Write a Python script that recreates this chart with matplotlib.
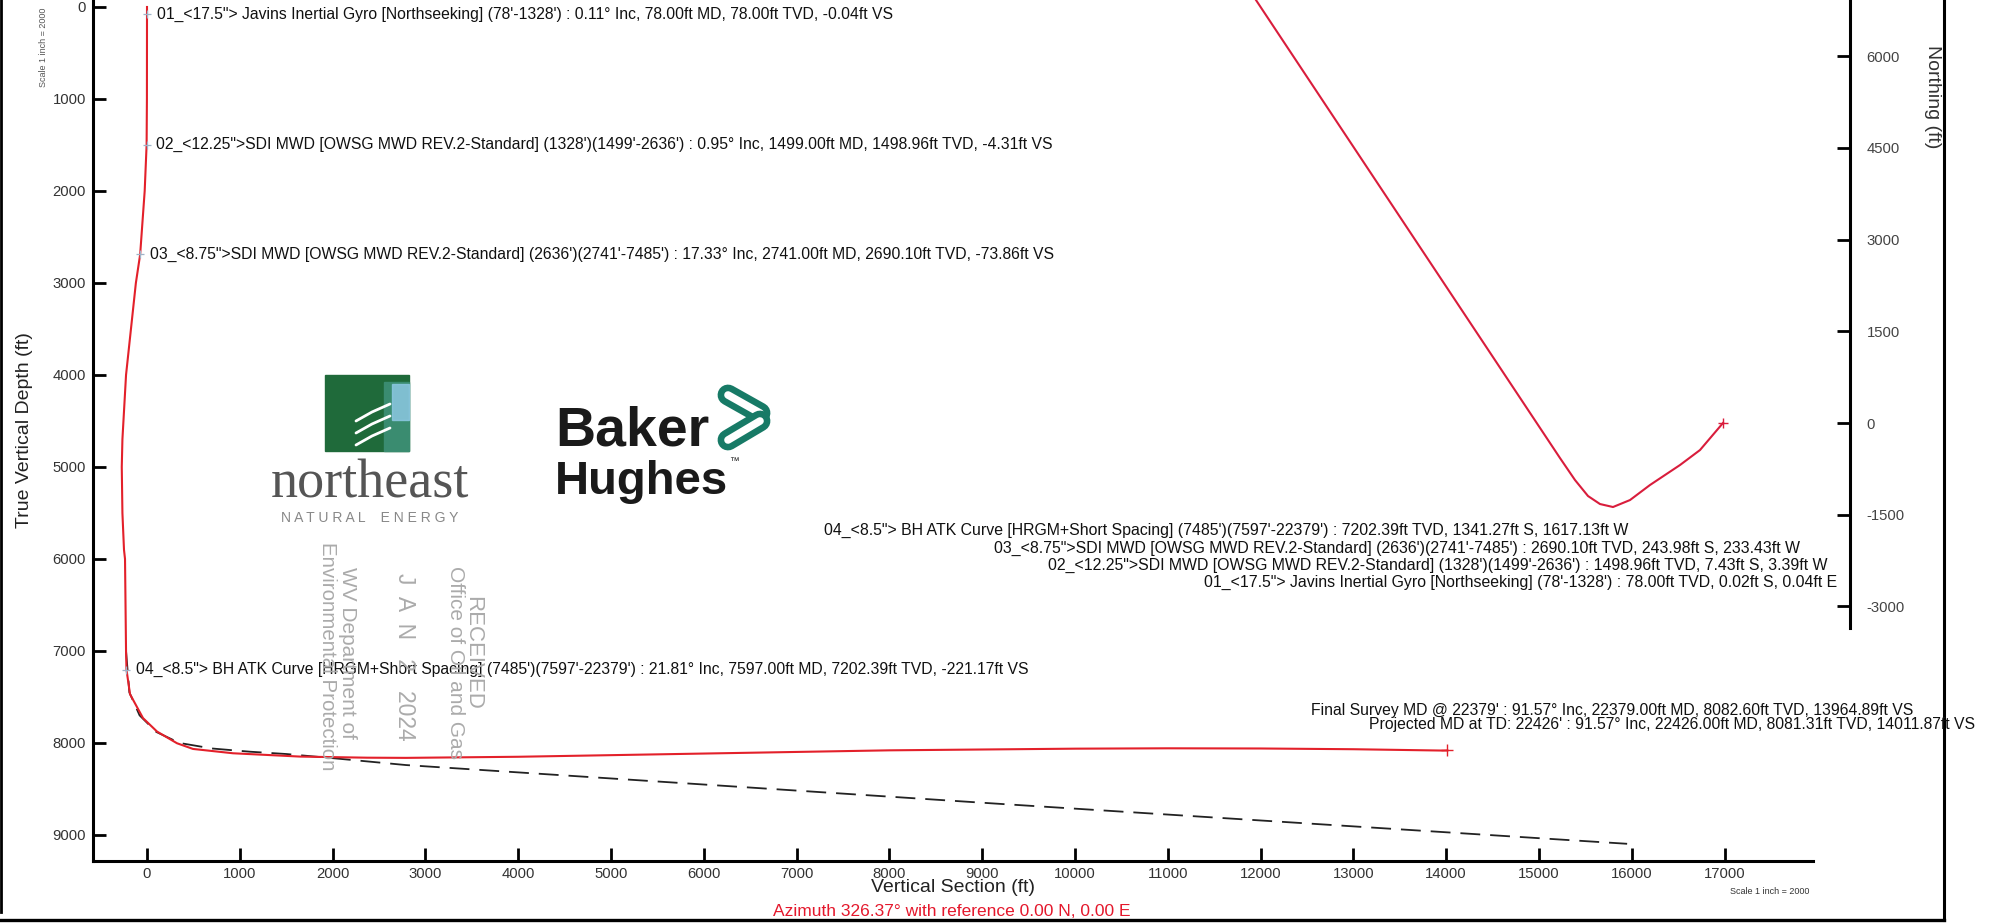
import matplotlib.pyplot as plt
from matplotlib.patches import Rectangle

plt.rcParams['font.family'] = ['Liberation Sans', 'DejaVu Sans']
plt.rcParams['axes.unicode_minus'] = False

# vertical section view, actual wellpath (ft)
vs_actual = [0, -0.04, -1, -4.31, -25, -73.86, -120, -226, -265, -272, -265, -248, -237,
             -226, -221.17, -183, -43, 108, 323, 496, 927, 1650, 2370, 2790, 4000, 6000,
             8000, 10000, 11000, 12000, 13000, 13964.89, 14011.87]
tvd_actual = [0, 78, 1000, 1498.96, 2000, 2690.10, 3000, 4000, 4700, 5000, 5500, 5900, 6000,
              7000, 7202.39, 7470, 7730, 7876, 8003, 8065, 8112, 8148, 8160, 8162, 8150, 8115,
              8080, 8062, 8058, 8060, 8068, 8082.60, 8081.31]

# planned wellpath (dashed)
vs_plan = [-226, -190, -80, 100, 350, 700, 1110, 1500, 2000, 2790, 9160, 15950]
tvd_plan = [7000, 7450, 7700, 7880, 8000, 8060, 8095, 8120, 8165, 8240, 8660, 9096]

# survey tie-in points and labels
tie_vs = [-0.04, -4.31, -73.86, -221.17]
tie_tvd = [78.00, 1498.96, 2690.10, 7202.39]
tie_labels = [
    '01_<17.5"> Javins Inertial Gyro [Northseeking] (78\'-1328\') : 0.11° Inc, 78.00ft MD, 78.00ft TVD, -0.04ft VS',
    '02_<12.25">SDI MWD [OWSG MWD REV.2-Standard] (1328\')(1499\'-2636\') : 0.95° Inc, 1499.00ft MD, 1498.96ft TVD, -4.31ft VS',
    '03_<8.75">SDI MWD [OWSG MWD REV.2-Standard] (2636\')(2741\'-7485\') : 17.33° Inc, 2741.00ft MD, 2690.10ft TVD, -73.86ft VS',
    '04_<8.5"> BH ATK Curve [HRGM+Short Spacing] (7485\')(7597\'-22379\') : 21.81° Inc, 7597.00ft MD, 7202.39ft TVD, -221.17ft VS',
]
plan_labels = [
    '04_<8.5"> BH ATK Curve [HRGM+Short Spacing] (7485\')(7597\'-22379\') : 7202.39ft TVD, 1341.27ft S, 1617.13ft W',
    '03_<8.75">SDI MWD [OWSG MWD REV.2-Standard] (2636\')(2741\'-7485\') : 2690.10ft TVD, 243.98ft S, 233.43ft W',
    '02_<12.25">SDI MWD [OWSG MWD REV.2-Standard] (1328\')(1499\'-2636\') : 1498.96ft TVD, 7.43ft S, 3.39ft W',
    '01_<17.5"> Javins Inertial Gyro [Northseeking] (78\'-1328\') : 78.00ft TVD, 0.02ft S, 0.04ft E',
]
final_labels = [
    "Final Survey MD @ 22379' : 91.57° Inc, 22379.00ft MD, 8082.60ft TVD, 13964.89ft VS",
    "Projected MD at TD: 22426' : 91.57° Inc, 22426.00ft MD, 8081.31ft TVD, 14011.87ft VS",
]

# plan view (ft)
easting = [0, -376, -703, -1194, -1521, -1799, -2012, -2208, -2421, -2666, -7640, -10694]
northing = [0, -442, -687, -1014, -1260, -1374, -1325, -1194, -932, -573, 6920, 11520]
north_ticks = [-3000, -1500, 0, 1500, 3000, 4500, 6000]

vs_ticks = list(range(0, 17001, 1000))
tvd_ticks = list(range(0, 9001, 1000))

W, H = 1991, 924
fig = plt.figure(figsize=(W / 100, H / 100), dpi=100)

# ---- vertical section
ax = fig.add_axes([93 / W, 63 / H, 1720 / W, 861 / H])
ax.set_xlim(-582, 17953)
ax.set_ylim(9283, -76)
ax.plot(vs_plan, tvd_plan, color='#222222', lw=1.3, dashes=(11, 5.5), zorder=2)
ax.plot(vs_actual, tvd_actual, color='#e3202a', lw=1.5, zorder=3)
ax.plot(vs_actual[-1], tvd_actual[-1], '+', color='#e3202a', ms=8, mew=1.0, zorder=3)
ax.plot(tie_vs, tie_tvd, '+', color='#9fb3c8', ms=6, mew=0.9, zorder=3)
for v, t, s in zip(tie_vs, tie_tvd, tie_labels):
    ax.annotate(s, xy=(v, t), xytext=(7, 0), textcoords='offset points',
                ha='left', va='center', fontsize=11.3, color='#111111')

ax.set_xticks(vs_ticks)
ax.set_yticks(tvd_ticks)
for side in ['top', 'right']:
    ax.spines[side].set_visible(False)
for side in ['left', 'bottom']:
    ax.spines[side].set_linewidth(2.2)
ax.tick_params(direction='in', length=9.5, width=2, labelsize=10.7, labelcolor='#333333')
ax.tick_params(axis='y', pad=5)
ax.tick_params(axis='x', pad=4)
ax.set_facecolor('none')

ax.set_xlabel('Vertical Section (ft)', fontsize=14, color='#222222')
ax.xaxis.label.set_va('center')
ax.xaxis.set_label_coords(0.5, -26 / 861)
ax.set_ylabel('True Vertical Depth (ft)', fontsize=14, color='#222222')
ax.yaxis.label.set_va('center')
ax.yaxis.set_label_coords(-68 / 1720, 0.5)

# ---- plan view inset
pax = fig.add_axes([1100 / W, 296 / H, 750 / W, 628 / H])
pax.set_xlim(-10191, 2078)
pax.set_ylim(-3353, 6920)
pax.set_facecolor('none')
pax.plot(easting, northing, color='#d91d3c', lw=1.5)
pax.plot(0, 0, '+', color='#d91d3c', ms=7, mew=1.0)
for side in ['top', 'left', 'bottom']:
    pax.spines[side].set_visible(False)
pax.spines['right'].set_linewidth(2.2)
pax.set_xticks([])
pax.yaxis.tick_right()
pax.set_yticks(north_ticks)
pax.tick_params(axis='y', direction='in', length=9.5, width=2, labelsize=10.7,
                labelcolor='#444444', pad=12)
pax.yaxis.set_label_position('right')
pax.set_ylabel('Northing (ft)', fontsize=14, color='#333333', rotation=-90)
pax.yaxis.label.set_va('center')
pax.yaxis.set_label_coords(832 / 750, (628 - 97) / 628)

# ---- overlay in pixel units for page furniture
ov = fig.add_axes([0, 0, 1, 1])
ov.set_xlim(0, W)
ov.set_ylim(H, 0)
ov.axis('off')
ov.set_facecolor('none')

for s, xr, yc in zip(plan_labels, [1628, 1800, 1828, 1837], [530, 548, 565, 582]):
    ov.text(xr, yc, s, ha='right', va='center', fontsize=11.4, color='#111111')
for s, xr, yc in zip(final_labels, [1913, 1975], [710, 724]):
    ov.text(xr, yc, s, ha='right', va='center', fontsize=11.3, color='#111111')

ov.text(952, 911, 'Azimuth 326.37° with reference 0.00 N, 0.00 E', ha='center', va='center',
        fontsize=12.5, color='#e4182c')
ov.text(1770, 891, 'Scale 1 inch = 2000', ha='center', va='center', fontsize=6.5, color='#333333')
ov.text(43, 47, 'Scale 1 inch = 2000', ha='center', va='center', fontsize=6.5, color='#555555',
        rotation=90)

# received stamp
stamp = [('Environmental Protection', 327, 656, 14.8), ('WV Department of', 347, 653, 15),
         ('J  A  N   2   2024', 405, 657, 16.5), ('Office of Oil and Gas', 456, 662, 15),
         ('RECEIVED', 473, 653, 16)]
for s, x, y, fs in stamp:
    ov.text(x, y, s, rotation=-90, ha='center', va='center', fontsize=fs, color='#ababab')

# northeast logo
ov.add_patch(Rectangle((325, 375), 84, 76, color='#1f6a3a'))
ov.add_patch(Rectangle((384, 382), 25, 69, color='#3a8c70'))
ov.add_patch(Rectangle((392, 384), 17, 36, color='#8cc8e2', alpha=0.85))
for y0 in [412, 424, 436]:
    ov.plot([356, 372, 390], [y0 + 9, y0, y0 - 8], color='white', lw=2.0,
            solid_capstyle='round')
ov.text(370, 497, 'northeast', ha='center', va='baseline', fontsize=39,
        family='Liberation Serif', color='#555555')
ov.text(370, 518, 'N A T U R A L    E N E R G Y', ha='center', va='center', fontsize=10,
        color='#888888')

# baker hughes logo
ov.text(555, 445, 'Baker', ha='left', va='baseline', fontsize=40, fontweight='bold',
        color='#1a1a1a')
ov.text(555, 494, 'Hughes', ha='left', va='baseline', fontsize=34, fontweight='bold',
        color='#1a1a1a')
ov.text(729, 461, '™', ha='left', va='center', fontsize=7, color='#1a1a1a')
for (x0, y0), (x1, y1) in [((728, 395), (760, 413)), ((728, 440), (760, 421))]:
    ov.plot([x0, x1], [y0, y1], color='#177a66', lw=15, solid_capstyle='round')
    ov.plot([x0, x1], [y0, y1], color='white', lw=5.5, solid_capstyle='round')

# page frame
ov.plot([1, 1], [0, 912], color='black', lw=2)
ov.plot([0, 1944], [920, 920], color='black', lw=2.4)
ov.plot([1944, 1944], [0, 920], color='black', lw=2.2)

fig.savefig('out.png', dpi=100)
